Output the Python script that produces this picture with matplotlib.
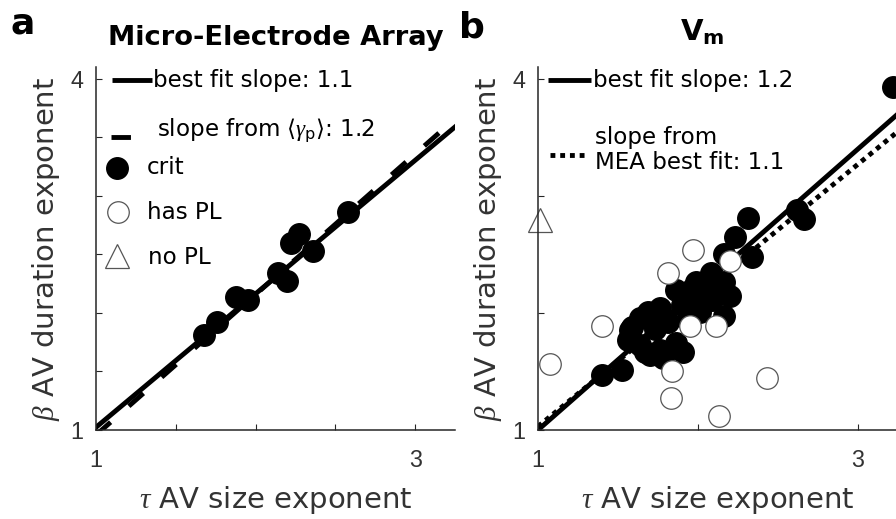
import numpy as np
import matplotlib
matplotlib.use("Agg")
import matplotlib.pyplot as plt

plt.rcParams['font.family'] = ['DejaVu Sans']
plt.rcParams['mathtext.fontset'] = 'custom'
plt.rcParams['mathtext.rm'] = 'DejaVu Sans'
plt.rcParams['mathtext.it'] = 'Liberation Serif:italic'
plt.rcParams['mathtext.bf'] = 'DejaVu Sans:bold'

# MEA: critical recordings (tau, beta)
mea_tau = [1.68, 1.76, 1.88, 1.95, 2.14, 2.20, 2.22, 2.27, 2.36, 2.58]
mea_beta = [1.81, 1.92, 2.14, 2.11, 2.34, 2.27, 2.60, 2.67, 2.53, 2.86]
mea_fit_slope, mea_fit_icpt = 1.14, -0.117
mea_gamma_slope, mea_gamma_icpt = 1.2, -0.243

# Vm: critical recordings
vm_crit_tau = [1.40, 1.525, 1.56, 1.575, 1.59, 1.64, 1.638, 1.669, 1.69, 1.70,
               1.73, 1.76, 1.763, 1.781, 1.81, 1.86, 1.863, 1.90, 1.906, 1.94,
               1.95, 1.96, 1.99, 2.01, 2.013, 2.04, 2.08, 2.088, 2.13, 2.16,
               2.16, 2.16, 2.20, 2.23, 2.31, 2.34, 2.62, 2.66, 3.22]
vm_crit_beta = [1.47, 1.51, 1.77, 1.855, 1.88, 1.73, 1.957, 1.667, 2.01, 1.64,
                1.86, 1.68, 2.043, 1.615, 1.92, 1.74, 2.197, 2.07, 1.667, 1.94,
                2.111, 2.20, 2.26, 2.11, 2.009, 2.26, 2.34, 2.111, 2.20, 2.26,
                2.50, 1.97, 2.145, 2.65, 2.81, 2.48, 2.88, 2.80, 3.93]
# Vm: has power law but not critical
vm_pl_tau = [1.075, 1.40, 1.81, 1.97, 1.95, 2.11, 1.84, 1.83, 2.13, 2.43, 2.20]
vm_pl_beta = [1.56, 1.89, 2.34, 2.54, 1.89, 1.89, 1.50, 1.27, 1.12, 1.44, 2.44]
# Vm: no power law
vm_nopl_tau = [1.01]
vm_nopl_beta = [2.79]
vm_fit_slope, vm_fit_icpt = 1.2, -0.2
vm_mea_slope, vm_mea_icpt = 1.12, -0.09

INK = '#262626'
LBL = '#333333'
TXT = 16.6
fig = plt.figure(figsize=(8.96, 5.19), dpi=100)
ax_a = fig.add_axes([96 / 896, 89 / 519, 359 / 896, 363 / 519])
ax_b = fig.add_axes([538 / 896, 89 / 519, 360 / 896, 363 / 519])

xfit = np.linspace(1, 3.25, 50)


def style(ax, xt, yt):
    ax.set_xlim(1, 3.25)
    ax.set_ylim(1, 4.1)
    for s in ['top', 'right']:
        ax.spines[s].set_visible(False)
    for s in ['left', 'bottom']:
        ax.spines[s].set_color(INK)
        ax.spines[s].set_linewidth(1.1)
    ax.set_xticks(xt)
    ax.set_yticks(yt)
    ax.set_xticklabels(['1' if v == 1 else '3' if v == 3 else '' for v in xt],
                       fontfamily='Liberation Sans')
    ax.set_yticklabels(['1' if v == 1 else '4' if v == 4 else '' for v in yt],
                       fontfamily='Liberation Sans')
    ax.tick_params(direction='in', length=4, width=0.8, colors=INK,
                   labelsize=16.8, labelcolor=LBL)
    ax.tick_params(axis='x', pad=14)
    ax.tick_params(axis='y', pad=9)
    ax.set_xlabel(r'$\tau$ AV size exponent', fontsize=21, color=LBL)
    ax.set_ylabel(r'$\beta$ AV duration exponent', fontsize=21, color=LBL)
    ax.xaxis.set_label_coords(0.5, -0.15)
    ax.yaxis.set_label_coords(-0.095, 0.5)


def key(ax, x0, x1, y, **kw):
    ax.plot([x0, x1], [y, y], transform=ax.transAxes, clip_on=False, **kw)


# ---- panel a
ax = ax_a
style(ax, np.arange(1, 3.01, 0.5), np.arange(1, 4.01, 0.5))
ax.plot(xfit, mea_fit_slope * xfit + mea_fit_icpt, color='black', lw=3.5)
ax.plot(xfit, mea_gamma_slope * xfit + mea_gamma_icpt, color='black', lw=3.5,
        dashes=(4, 5), dash_capstyle='butt')
ax.plot(mea_tau, mea_beta, 'o', color='black', ms=15.5, mec='black')

key(ax, 0.045, 0.156, 0.964, color='black', lw=3.5, solid_capstyle='butt')
ax.text(0.159, 0.964, f'best fit slope: {mea_fit_slope:.1f}', transform=ax.transAxes,
        fontsize=TXT, va='center')
key(ax, 0.042, 0.156, 0.807, color='black', lw=3.5, dashes=(4, 5), dash_capstyle='butt')
ax.text(0.17, 0.826, r'slope from $\langle\gamma_{\mathrm{p}}\rangle$: ' + f'{mea_gamma_slope:.1f}',
        transform=ax.transAxes, fontsize=TXT, va='center')
ax.plot([0.058], [0.722], 'o', color='black', ms=15.5, transform=ax.transAxes, clip_on=False)
ax.text(0.142, 0.722, 'crit', transform=ax.transAxes, fontsize=TXT, va='center')
ax.plot([0.062], [0.600], 'o', mfc='white', mec='#555555', mew=0.9, ms=15.5,
        transform=ax.transAxes, clip_on=False)
ax.text(0.142, 0.600, 'has PL', transform=ax.transAxes, fontsize=TXT, va='center')
ax.plot([0.058], [0.478], '^', mfc='white', mec='#555555', mew=0.9, ms=17,
        transform=ax.transAxes, clip_on=False)
ax.text(0.145, 0.474, 'no PL', transform=ax.transAxes, fontsize=TXT, va='center')
ax.text(0.5, 1.06, 'Micro-Electrode Array', transform=ax.transAxes, fontsize=19.7,
        fontweight='bold', ha='center', va='baseline')

# ---- panel b
ax = ax_b
style(ax, [1, 2, 3], [1, 2, 3, 4])
ax.plot(xfit, vm_fit_slope * xfit + vm_fit_icpt, color='black', lw=3.5)
ax.plot(xfit, vm_mea_slope * xfit + vm_mea_icpt, color='black', lw=3.5,
        dashes=(1, 1), dash_capstyle='butt')
ax.plot(vm_crit_tau, vm_crit_beta, 'o', color='black', ms=15.5, clip_on=False)
ax.plot(vm_pl_tau, vm_pl_beta, 'o', mfc='white', mec='#555555', mew=0.9, ms=15.5)
ax.plot(vm_nopl_tau, vm_nopl_beta, '^', mfc='white', mec='#555555', mew=0.9, ms=17,
        clip_on=False)

key(ax, 0.028, 0.147, 0.964, color='black', lw=3.5, solid_capstyle='butt')
ax.text(0.153, 0.964, f'best fit slope: {vm_fit_slope:.1f}', transform=ax.transAxes,
        fontsize=TXT, va='center')
key(ax, 0.033, 0.135, 0.758, color='black', lw=3.5, dashes=(1, 1), dash_capstyle='butt')
ax.text(0.158, 0.771, f'slope from\nMEA best fit: {vm_mea_slope:.1f}', transform=ax.transAxes,
        fontsize=TXT, va='center', linespacing=1.1)
ax.text(0.455, 1.074, r'$\mathbf{V_m}$', transform=ax.transAxes, fontsize=21,
        ha='center', va='baseline')

fig.text(10 / 896, 1 - 34 / 519, 'a', fontsize=26, fontweight='bold', va='baseline')
fig.text(459 / 896, 1 - 37 / 519, 'b', fontsize=26, fontweight='bold', va='baseline')

fig.savefig('out.png', dpi=100)
